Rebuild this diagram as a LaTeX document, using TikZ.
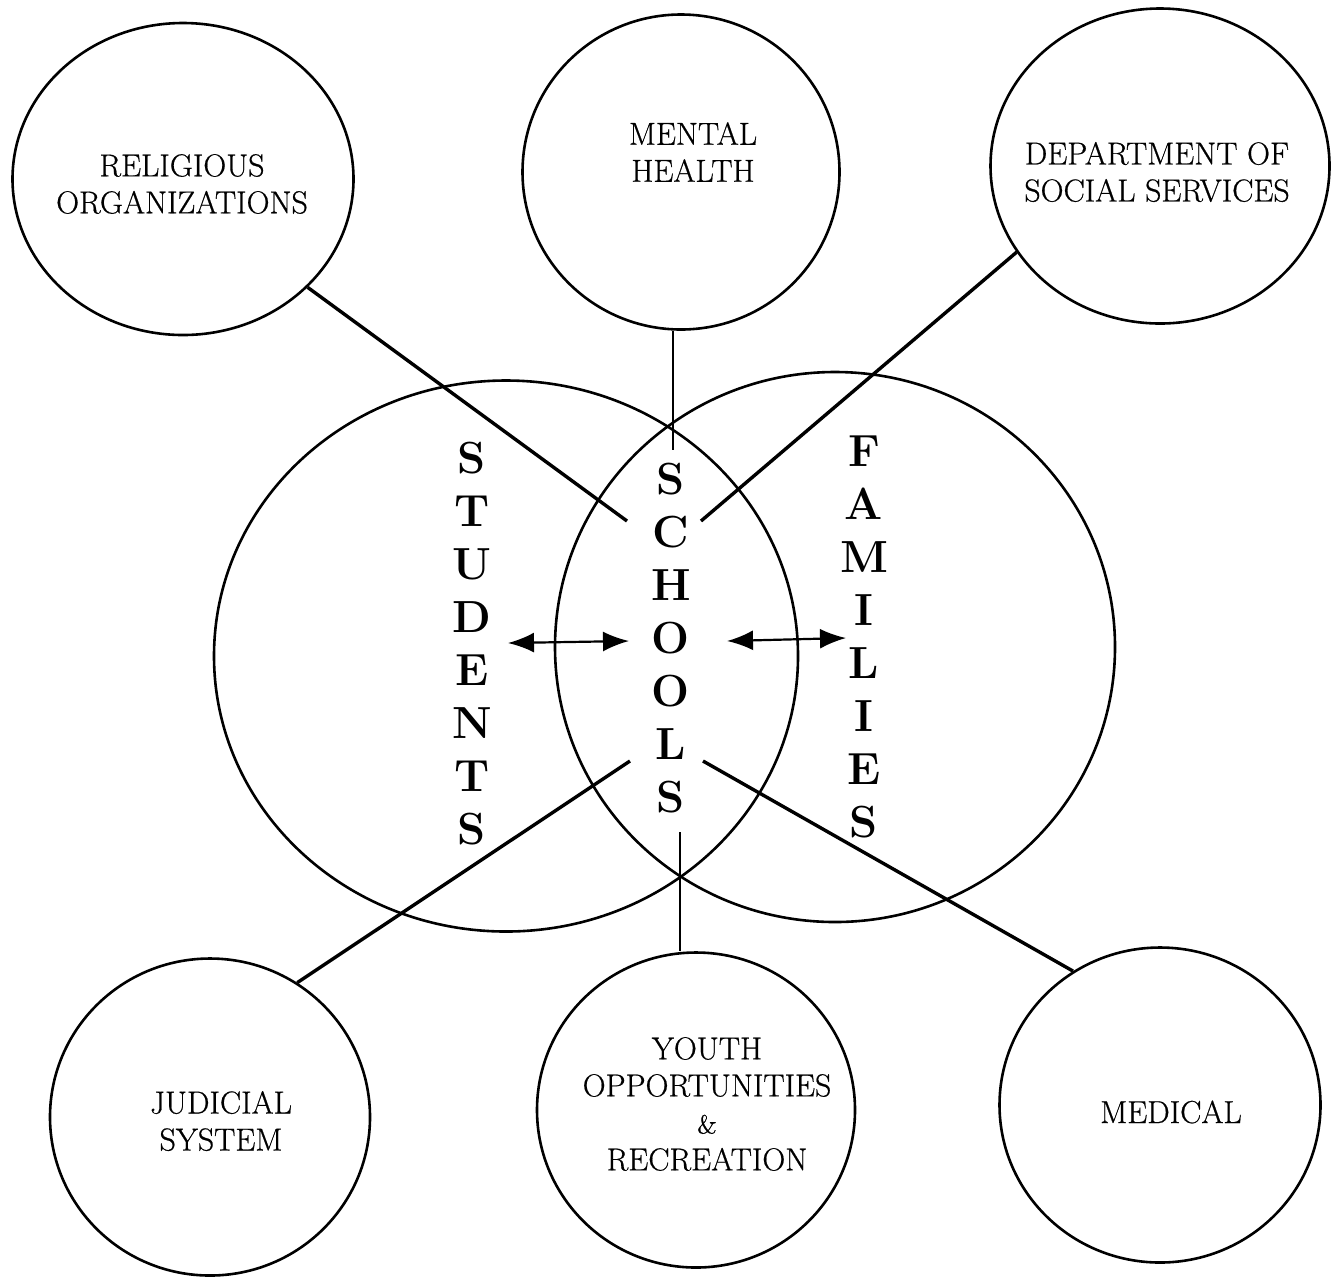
\documentclass[tikz,border=0pt]{standalone}
\usepackage{fontspec}
\newfontfamily\medfont{Latin Modern Roman}[FakeBold=0.6]
\usetikzlibrary{shapes.geometric,arrows.meta}
\begin{document}
\begin{tikzpicture}[x=0.5pt,y=-0.5pt,
  sat/.style={ellipse,draw,line width=1.3pt,inner sep=0pt},
  lbl/.style={align=center,font=\medfont\fontsize{15.9}{18.5}\selectfont,inner sep=0pt},
  big/.style={align=center,font=\fontsize{22.5}{26.5}\selectfont\bfseries,inner sep=0pt},
  link/.style={line width=1.7pt},
  vlink/.style={line width=1.1pt},
  dbl/.style={line width=1.1pt,{Latex[length=13pt,width=10pt]}-{Latex[length=13pt,width=10pt]}}
]
\useasboundingbox (0,0) rectangle (1331,1276);
% satellite circles
\node[sat,minimum width=170.5pt,minimum height=156pt] (rel) at (183,179) {};
\node[sat,minimum width=158.5pt,minimum height=157.5pt] (mh) at (681,172) {};
\node[sat,minimum width=169.5pt,minimum height=157.5pt] (dss) at (1160,166) {};
\node[sat,minimum width=160pt,minimum height=158.5pt] (jud) at (210,1117) {};
\node[sat,minimum width=159pt,minimum height=157.5pt] (yo) at (696,1110) {};
\node[sat,minimum width=160.5pt,minimum height=157.5pt] (med) at (1160,1105) {};
% big circles
\node[sat,minimum width=292pt,minimum height=275.5pt] (stu) at (506,656) {};
\node[sat,minimum width=280pt,minimum height=275pt] (fam) at (835,647) {};
% labels
\node[lbl] (relT) at (182,184) {RELIGIOUS\\ORGANIZATIONS};
\node[lbl] (mhT) at (693,152) {MENTAL\\HEALTH};
\node[lbl] (dssT) at (1157,172) {DEPARTMENT OF\\SOCIAL SERVICES};
\node[lbl] (judT) at (221,1121) {JUDICIAL\\SYSTEM};
\node[lbl] (yoT) at (707,1104) {YOUTH\\OPPORTUNITIES\\{\fontsize{13}{18.5}\selectfont\&}\\RECREATION};
\node[lbl] (medT) at (1171,1112) {MEDICAL};
% vertical words
\node[big] (stuT) at (472,644) {S\\T\\U\\D\\E\\N\\T\\S};
\node[big] (schT) at (671,638) {S\\C\\H\\O\\O\\L\\S};
\node[big] (famT) at (864,637) {F\\A\\M\\I\\L\\I\\E\\S};
% connector ends
\coordinate (relE) at (627,521);
\coordinate (mhE) at (673,450);
\coordinate (dssE) at (701,521);
\coordinate (judE) at (630,761);
\coordinate (yoE) at (680,832);
\coordinate (medE) at (703,761);
\draw[link] (rel.-41) -- (relE);
\draw[vlink] (mhE |- mh.south) -- (mhE);
\draw[link] (dss.-149.4) -- (dssE);
\draw[link] (jud.57.2) -- (judE);
\draw[vlink] (yoE |- yo.north) -- (yoE);
\draw[link] (med.123.7) -- (medE);
% arrows
\coordinate (aL1) at (508,643);
\coordinate (aL2) at (629,641);
\coordinate (aR1) at (727,641);
\coordinate (aR2) at (846,638);
\draw[dbl] (aL1) -- (aL2);
\draw[dbl] (aR1) -- (aR2);
\end{tikzpicture}
\end{document}
